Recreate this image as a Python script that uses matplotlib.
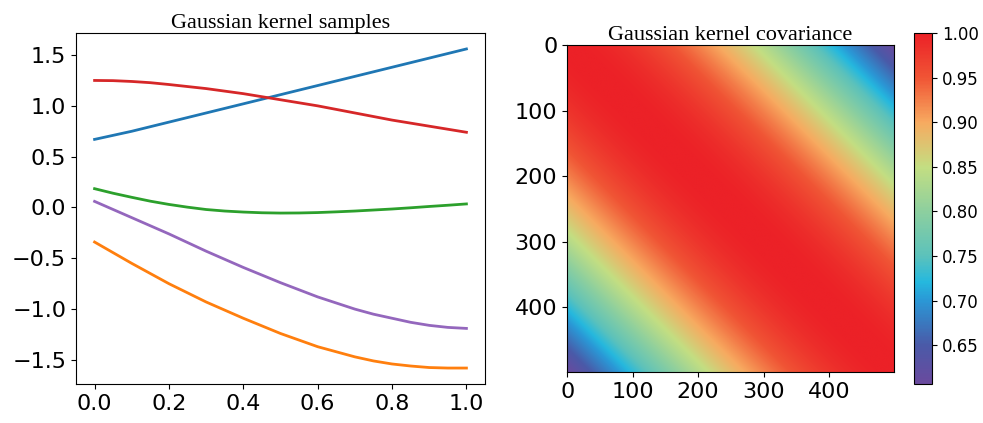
import numpy as np
import matplotlib
matplotlib.use("Agg")
import matplotlib.pyplot as plt
from matplotlib.colors import LinearSegmentedColormap

# ── Data ──────────────────────────────────────────────────────────────────────
x_samples = [0.0, 0.05, 0.1, 0.15, 0.2, 0.25, 0.3, 0.35, 0.4, 0.45, 0.5,
             0.55, 0.6, 0.65, 0.7, 0.75, 0.8, 0.85, 0.9, 0.95, 1.0]

sample_blue   = [0.67, 0.71, 0.75, 0.795, 0.84, 0.885, 0.93, 0.975, 1.02, 1.065, 1.11,
                 1.155, 1.20, 1.245, 1.29, 1.335, 1.38, 1.425, 1.47, 1.515, 1.56]
sample_orange = [-0.34, -0.445, -0.55, -0.65, -0.75, -0.84, -0.93, -1.01, -1.09, -1.165, -1.24,
                 -1.305, -1.37, -1.42, -1.47, -1.51, -1.54, -1.56, -1.575, -1.58, -1.58]
sample_green  = [0.185, 0.14, 0.10, 0.062, 0.03, 0.003, -0.02, -0.035, -0.045, -0.052, -0.055,
                 -0.054, -0.05, -0.043, -0.035, -0.025, -0.015, -0.003, 0.01, 0.022, 0.035]
sample_red    = [1.25, 1.248, 1.24, 1.228, 1.21, 1.19, 1.17, 1.145, 1.12, 1.09, 1.06,
                 1.03, 1.00, 0.965, 0.93, 0.895, 0.86, 0.83, 0.80, 0.77, 0.74]
sample_purple = [0.06, -0.02, -0.10, -0.18, -0.26, -0.345, -0.43, -0.51, -0.59, -0.665, -0.74,
                 -0.81, -0.88, -0.94, -1.00, -1.05, -1.09, -1.13, -1.16, -1.18, -1.19]

samples = [sample_blue, sample_orange, sample_green, sample_red, sample_purple]

# covariance grid
n_points     = 500
length_scale = 1.0

x_ticks_left   = [0.0, 0.2, 0.4, 0.6, 0.8, 1.0]
y_ticks_left   = [-1.5, -1.0, -0.5, 0.0, 0.5, 1.0, 1.5]
img_ticks      = [0, 100, 200, 300, 400]
cbar_ticks     = [0.65, 0.70, 0.75, 0.80, 0.85, 0.90, 0.95, 1.00]

cmap_colors = ["#6a4a9e", "#4a5aa8", "#2a98d6", "#25b8de", "#5cc2bb",
               "#8ccf9f", "#c3de82", "#f7aa60", "#f05535", "#ec2127"]
cmap_pos    = [0.0, 0.11, 0.238, 0.29, 0.365, 0.49, 0.618, 0.746, 0.873, 1.0]

# ── Figure ────────────────────────────────────────────────────────────────────
fig = plt.figure(figsize=(9.83, 4.23), dpi=100)
title_font = dict(family="Liberation Serif", fontsize=16)

ax1 = fig.add_axes([0.0773, 0.0922, 0.4161, 0.8298])
for s in samples:
    ax1.plot(x_samples, s, linewidth=2)
ax1.set_xticks(x_ticks_left)
ax1.set_yticks(y_ticks_left)
ax1.tick_params(labelsize=16)
ax1.set_title("Gaussian kernel samples", pad=3, **title_font)

grid = np.linspace(0, 1, n_points)
cov  = np.exp(-(grid[:, None] - grid[None, :]) ** 2 / (2 * length_scale ** 2))

cmap = LinearSegmentedColormap.from_list("kern", list(zip(cmap_pos, cmap_colors)))

ax2 = fig.add_axes([0.5768, 0.1206, 0.3327, 0.7730])
im = ax2.imshow(cov, cmap=cmap, aspect="auto")
ax2.set_xticks(img_ticks)
ax2.set_yticks(img_ticks)
ax2.tick_params(labelsize=16)
ax2.set_title("Gaussian kernel covariance", pad=3, **title_font)

cax = fig.add_axes([914 / 983, 39 / 423, 18 / 983, 351 / 423])
cb = fig.colorbar(im, cax=cax)
cb.set_ticks(cbar_ticks)
cb.ax.tick_params(labelsize=12)

fig.savefig("out.png", dpi=100)
